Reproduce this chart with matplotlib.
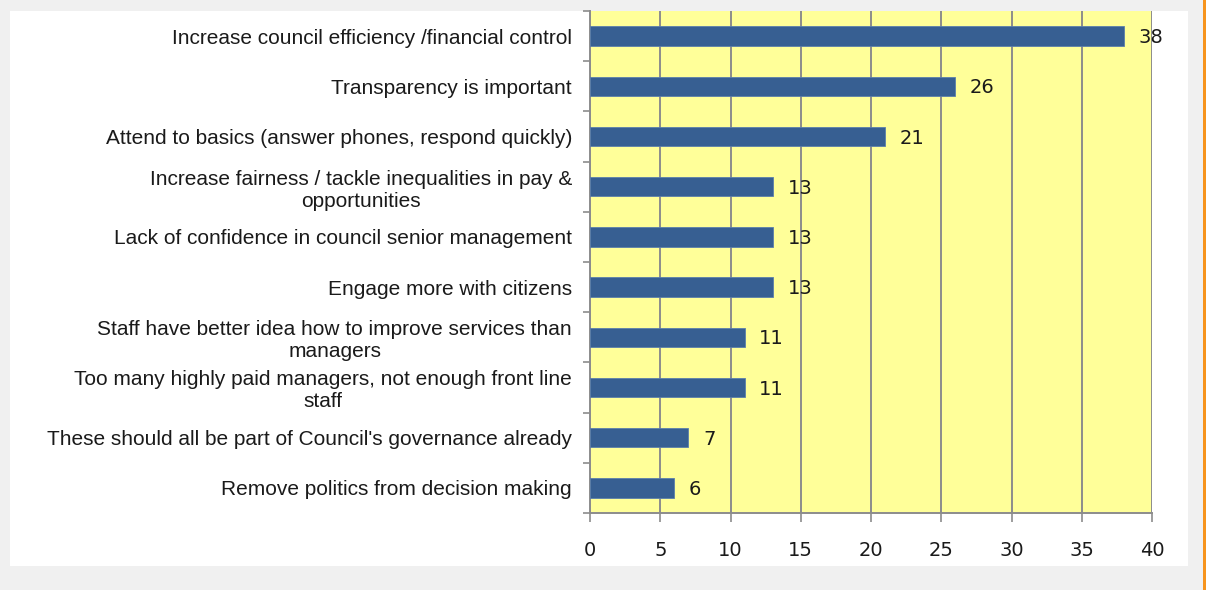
import numpy as np
import matplotlib.pyplot as plt
from matplotlib.patches import Rectangle

categories = [
    "Increase council efficiency /financial control",
    "Transparency is important",
    "Attend to basics (answer phones, respond quickly)",
    "Increase fairness / tackle inequalities in pay &\nopportunities",
    "Lack of confidence in council senior management",
    "Engage more with citizens",
    "Staff have better idea how to improve services than\nmanagers",
    "Too many highly paid managers, not enough front line\nstaff",
    "These should all be part of Council's governance already",
    "Remove politics from decision making",
]
values = [38, 26, 21, 13, 13, 13, 11, 11, 7, 6]
x_ticks = [0, 5, 10, 15, 20, 25, 30, 35, 40]

W, H = 1206, 590
fig = plt.figure(figsize=(W / 100, H / 100), dpi=100, facecolor='#f0f0f0')

# white chart panel and orange edge line
fig.patches.append(Rectangle((10 / W, (H - 566) / H), (1188 - 10) / W, (566 - 11) / H,
                             transform=fig.transFigure, facecolor='white', edgecolor='none', zorder=-5))
fig.patches.append(Rectangle((1203 / W, 0), 3 / W, 1, transform=fig.transFigure,
                             facecolor='#f7941d', edgecolor='none', zorder=-5))

ax = fig.add_axes([590 / W, (H - 513) / H, (1152 - 590) / W, (513 - 11) / H])
ax.set_facecolor('#ffff99')

y = np.arange(len(categories))
ax.barh(y, values, height=0.39, color='#375f92', edgecolor='#5b7fab', linewidth=0.6, zorder=3)

for yi, v in zip(y, values):
    ax.text(v + 1.05, yi + 0.03, str(v), va='center', ha='left', fontsize=14,
            family='DejaVu Sans', color='#1a1a1a', zorder=4)

ax.set_xlim(0, 40)
ax.set_ylim(len(categories) - 0.5, -0.5)
ax.set_xticks(x_ticks)
ax.set_xticklabels([str(t) for t in x_ticks], fontsize=14, family='DejaVu Sans', color='#1a1a1a')
ax.xaxis.grid(True, color='#8c8c8c', linewidth=1.4, zorder=1)
ax.set_axisbelow(True)

ax.set_yticks(y)
ax.set_yticklabels(categories, fontsize=15, family='Liberation Sans', color='#1a1a1a',
                   multialignment='center', linespacing=1.2)
ax.set_yticks(np.arange(-0.5, len(categories) + 0.5, 1), minor=True)
ax.tick_params(axis='y', which='major', length=0, pad=13)
ax.tick_params(axis='y', which='minor', length=5, width=1.2, color='#8c8c8c', direction='out')
ax.tick_params(axis='x', length=6.5, width=1.2, color='#8c8c8c', direction='out', pad=14)

for s in ['top', 'right']:
    ax.spines[s].set_visible(False)
for s in ['left', 'bottom']:
    ax.spines[s].set_color('#8c8c8c')
    ax.spines[s].set_linewidth(1.4)

fig.savefig('out.png', dpi=100, facecolor=fig.get_facecolor())
